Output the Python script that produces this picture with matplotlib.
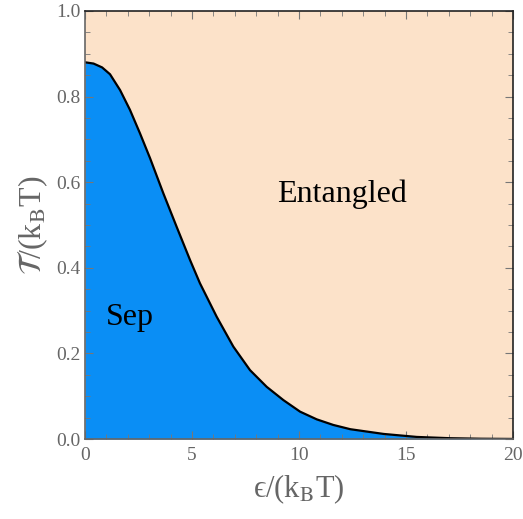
import matplotlib
matplotlib.use('Agg')
import matplotlib.pyplot as plt
from matplotlib.ticker import MultipleLocator

# boundary between separable and entangled regions
eps = [0.0, 0.4, 0.8, 1.17, 1.64, 2.1, 2.57, 3.04, 3.66, 4.28, 4.91, 5.37,
       6.15, 6.93, 7.71, 8.49, 9.27, 10.05, 10.83, 11.6, 12.4, 13.95, 15.5,
       17.06, 18.5, 20.0]
temp = [0.880, 0.877, 0.868, 0.852, 0.815, 0.769, 0.714, 0.656, 0.574, 0.496,
        0.418, 0.364, 0.286, 0.216, 0.161, 0.122, 0.091, 0.064, 0.046, 0.033,
        0.023, 0.012, 0.005, 0.002, 0.0008, 0.0003]

plt.rcParams['font.family'] = ['Liberation Serif', 'DejaVu Serif']
plt.rcParams['mathtext.fontset'] = 'stix'

fig = plt.figure(figsize=(5.23, 5.19), dpi=100)
ax = fig.add_axes([0.1625, 0.154, 0.8185, 0.825])

ax.set_facecolor('#fce2c9')
ax.fill_between(eps, 0, temp, color='#0a8ef5', linewidth=0)
ax.plot(eps, temp, color='black', lw=1.6)

ax.set_xlim(0, 20)
ax.set_ylim(0, 1.0)
ax.xaxis.set_major_locator(MultipleLocator(5))
ax.xaxis.set_minor_locator(MultipleLocator(1))
ax.yaxis.set_major_locator(MultipleLocator(0.2))
ax.yaxis.set_minor_locator(MultipleLocator(0.05))
ax.yaxis.set_major_formatter(plt.FuncFormatter(lambda v, p: f'{v:.1f}'))

ax.tick_params(which='both', direction='in', top=True, right=True,
               colors='#777777', labelcolor='#666666', labelsize=14, pad=3)
ax.tick_params(axis='x', which='major', pad=6)
ax.tick_params(which='major', length=6, width=0.8)
ax.tick_params(which='minor', length=3.5, width=0.6)

for s in ['left', 'bottom']:
    ax.spines[s].set_color('#666666')
for s in ['top', 'right']:
    ax.spines[s].set_color('#222222')
for s in ax.spines.values():
    s.set_linewidth(1.2)

ax.text(12.0, 0.572, 'Entangled', fontsize=23, ha='center', va='center')
ax.text(2.1, 0.283, 'Sep', fontsize=23, ha='center', va='center')

ax.set_xlabel('ϵ/(k$_\\mathrm{B}$T)', fontsize=22, color='#666666', labelpad=6)
ax.set_ylabel(r'$\mathcal{T}$/(k$_\mathrm{B}$T)', fontsize=23, color='#666666', labelpad=5)

fig.savefig('out.png', dpi=100)
